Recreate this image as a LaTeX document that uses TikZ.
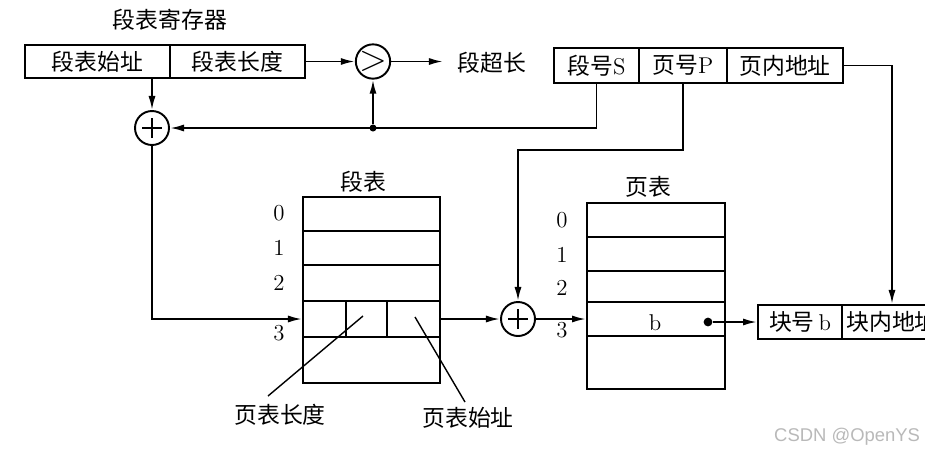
\documentclass[tikz,border=0pt]{standalone}
\usepackage{fontspec}
\newfontfamily\cjk{Noto Sans CJK SC}
\newfontfamily\wmfont{Liberation Sans}
\usetikzlibrary{arrows.meta,calc}
\newcommand\zhs[1]{{\cjk #1}}
\begin{document}
\begin{tikzpicture}[x=0.02cm,y=-0.02cm, line width=1.1pt,
  >={Latex[length=8pt,width=4pt]},
  cell/.style={draw, inner sep=0pt, minimum height=0.68cm, font=\fontsize{13}{15}\selectfont},
  lbl/.style={inner sep=0pt, font=\fontsize{13}{15}\selectfont},
  sumc/.style={draw, circle, minimum size=0.68cm, inner sep=0pt},
  plus/.style={path picture={\draw[line width=0.9pt] (path picture bounding box.center) +(-0.2cm,0) -- +(0.2cm,0) (path picture bounding box.center) +(0,-0.2cm) -- +(0,0.2cm);}},
  dotc/.style={circle, fill, inner sep=0pt, minimum size=5pt},
  thinline/.style={line width=0.8pt}]
\useasboundingbox (0,0) rectangle (925,454);
\clip (0,0) rectangle (925,454);
\fill[white] (0,0) rectangle (925,454);

% segment table register
\node[lbl] (rtitle) at (170,20) {\zhs{段表寄存器}};
\node[cell, minimum width=2.9cm, minimum height=0.66cm] (rsa) at (97.5,61.5) {\zhs{段表始址}};
\node[cell, minimum width=2.7cm, minimum height=0.66cm] (rsl) at (237.5,61.5) {\zhs{段表长度}};

% comparator
\node[sumc] (cmp) at (373,61.5) {\fontsize{20}{20}\selectfont$>$};
\coordinate (ov) at (443,61.5);
\node[lbl] (ovt) at (492,63) {\zhs{段超长}};

% logical address
\node[cell, minimum width=1.7cm, minimum height=0.7cm] (las) at (596.5,65.5) {\zhs{段号}S};
\node[cell, minimum width=1.76cm, minimum height=0.7cm] (lap) at (683,65.5) {\zhs{页号}P};
\node[cell, minimum width=2.32cm, minimum height=0.7cm] (lad) at (785,65.5) {\zhs{页内地址}};

% adders
\node[sumc, plus] (c1) at (152,128) {};
\node[dotc, minimum size=4pt] (jn) at (373,128) {};
\node[sumc, plus] (c2) at (518,319) {};
\coordinate (pk) at (518,150);

% segment table
\node[lbl] (sttitle) at (363,182) {\zhs{段表}};
\node[cell, minimum width=2.74cm, minimum height=0.68cm] (st0) at (371.5,214) {};
\node[cell, minimum width=2.74cm, minimum height=0.68cm] (st1) at (371.5,248) {};
\node[cell, minimum width=2.74cm, minimum height=0.72cm] (st2) at (371.5,283) {};
\node[cell, minimum width=2.74cm, minimum height=0.72cm] (st3) at (371.5,319) {};
\node[cell, minimum width=2.74cm, minimum height=0.92cm] (st4) at (371.5,360) {};
\draw (346,301) -- (346,337);
\draw (387,301) -- (387,337);
\node[lbl] (sl0) at (279,213) {0};
\node[lbl] (sl1) at (279,248) {1};
\node[lbl] (sl2) at (279,283) {2};
\node[lbl] (sl3) at (279,333) {3};

% page table
\node[lbl] (pttitle) at (648,187) {\zhs{页表}};
\node[cell, minimum width=2.76cm, minimum height=0.68cm] (pt0) at (656,220) {};
\node[cell, minimum width=2.76cm, minimum height=0.68cm] (pt1) at (656,254) {};
\node[cell, minimum width=2.76cm, minimum height=0.62cm] (pt2) at (656,286.5) {};
\node[cell, minimum width=2.76cm, minimum height=0.68cm] (pt3) at (656,319) {};
\node[cell, minimum width=2.76cm, minimum height=1.06cm] (pt4) at (656,362.5) {};
\node[lbl] (pl0) at (562,220) {0};
\node[lbl] (pl1) at (562,255) {1};
\node[lbl] (pl2) at (562,288) {2};
\node[lbl] (pl3) at (562,330) {3};
\node[lbl] (bt) at (655,323) {b};
\node[dotc] (bd) at (708,322) {};

% physical address
\node[cell, minimum width=1.68cm] (blk1) at (800,322) {\zhs{块号}\,b};
\node[cell, minimum width=2.0cm] (blk2) at (892,322) {\zhs{块内地址}};

% labels under segment table
\node[lbl] (plen) at (280,415) {\zhs{页表长度}};
\node[lbl] (pstart) at (468,418) {\zhs{页表始址}};
\coordinate (plenA) at (268,396);
\coordinate (plenB) at (363,316);
\coordinate (pstA) at (415,317);
\coordinate (pstB) at (465,402);
\draw[thinline] (plenA) -- (plenB);
\draw[thinline] (pstA) -- (pstB);

% connectors
\draw[->] (rsl.east) -- (cmp.west);
\draw[->] (cmp.east) -- (ov);
\draw[->] (c1 |- rsa.south) -- (c1.north);
\draw[->] (las.south) |- (c1.east);
\draw[->] (jn) -- (cmp.south);
\draw[->] (c1.south) |- (st3.west);
\draw[->] (st3.east) -- (c2.west);
\draw[->] (lap.south) |- (pk) -- (c2.north);
\draw[->] (c2.east) -- (pt3.west);
\draw[->] (bd) -- (blk1.west);
\draw[->] (lad.east) -| (blk2.north);

% watermark
\node[anchor=east, inner sep=0pt, text=gray!55, font=\wmfont\fontsize{10.5}{12}\selectfont] (wm) at (921,437) {CSDN @OpenYS};
\end{tikzpicture}
\end{document}
